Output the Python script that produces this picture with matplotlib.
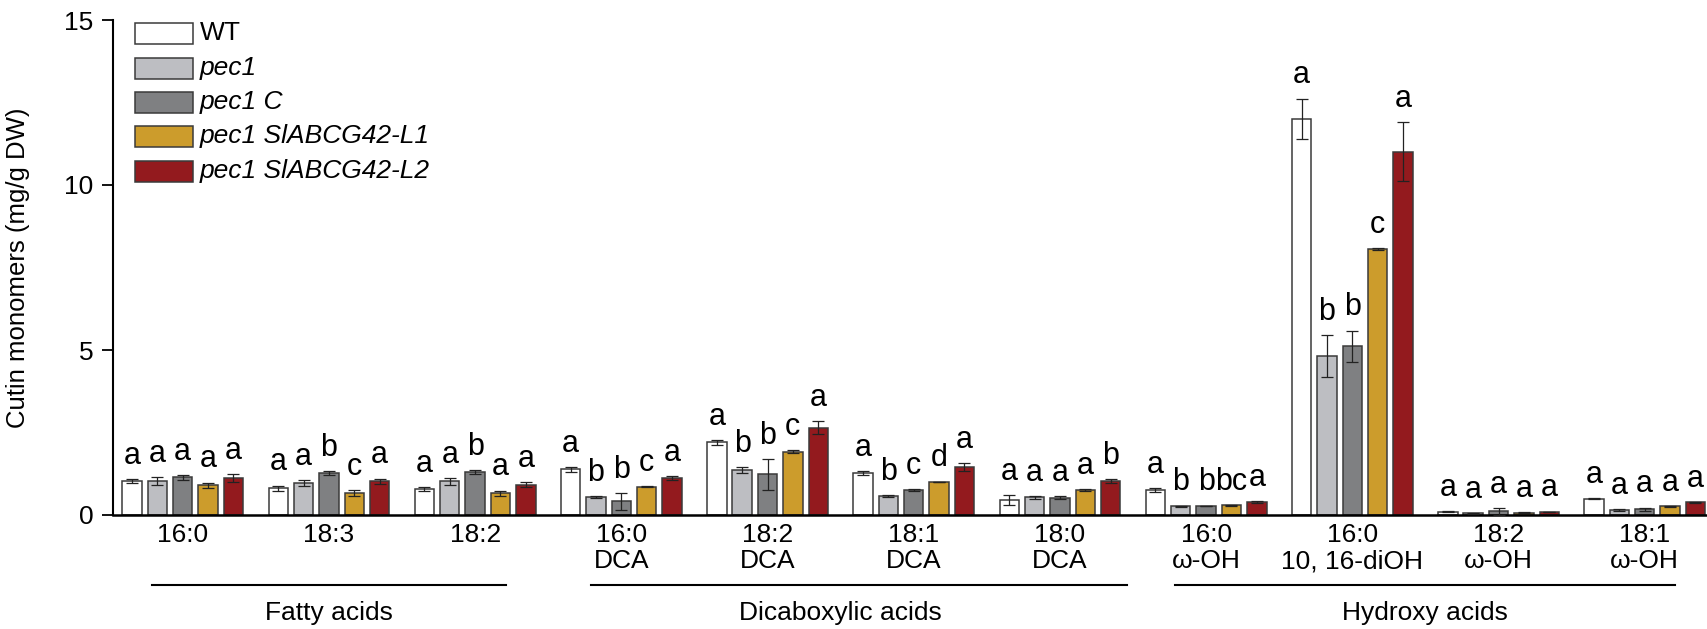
import numpy as np
import matplotlib
matplotlib.use("Agg")
import matplotlib.pyplot as plt
from matplotlib.patches import Rectangle

plt.rcParams["font.family"] = ["Liberation Sans", "DejaVu Sans"]

# categories (x tick labels) and groups
categories = ["16:0", "18:3", "18:2",
              "16:0\nDCA", "18:2\nDCA", "18:1\nDCA", "18:0\nDCA",
              "16:0\nω-OH", "16:0\n10, 16-diOH", "18:2\nω-OH", "18:1\nω-OH"]
groups = ["Fatty acids", "Dicaboxylic acids", "Hydroxy acids"]
group_span = [(0, 2), (3, 6), (7, 10)]
group_ext = [(0.21, 0.21), (0.21, 0.46), (0.21, 0.21)]

genotypes = ["WT", "pec1", "pec1 C", "pec1 SlABCG42-L1", "pec1 SlABCG42-L2"]
colors = ["#FFFFFF", "#BDBEC2", "#7F8082", "#CC9C2C", "#931A1E"]

# means (mg/g DW)
wt = [1.03, 0.81, 0.78, 1.38, 2.20, 1.28, 0.46, 0.76, 12.0, 0.10, 0.50]
pec1 = [1.03, 0.96, 1.02, 0.54, 1.37, 0.57, 0.54, 0.26, 4.82, 0.05, 0.15]
pec1_c = [1.14, 1.26, 1.30, 0.41, 1.23, 0.76, 0.53, 0.27, 5.11, 0.11, 0.17]
l1 = [0.90, 0.66, 0.66, 0.86, 1.92, 1.00, 0.76, 0.29, 8.06, 0.07, 0.26]
l2 = [1.11, 1.02, 0.92, 1.12, 2.65, 1.46, 1.03, 0.39, 11.01, 0.09, 0.38]

# standard errors
wt_err = [0.05, 0.08, 0.06, 0.08, 0.07, 0.06, 0.15, 0.05, 0.62, 0.02, 0.02]
pec1_err = [0.12, 0.09, 0.10, 0.03, 0.09, 0.03, 0.04, 0.02, 0.63, 0.01, 0.02]
pec1_c_err = [0.07, 0.06, 0.05, 0.25, 0.47, 0.02, 0.05, 0.01, 0.48, 0.10, 0.05]
l1_err = [0.08, 0.09, 0.08, 0.01, 0.05, 0.01, 0.02, 0.01, 0.02, 0.01, 0.01]
l2_err = [0.12, 0.08, 0.08, 0.06, 0.20, 0.12, 0.05, 0.02, 0.89, 0.01, 0.02]

# significance letters
wt_let = ["a", "a", "a", "a", "a", "a", "a", "a", "a", "a", "a"]
pec1_let = ["a", "a", "a", "b", "b", "b", "a", "b", "b", "a", "a"]
pec1_c_let = ["a", "b", "b", "b", "b", "c", "a", "b", "b", "a", "a"]
l1_let = ["a", "c", "a", "c", "c", "d", "a", "bc", "c", "a", "a"]
l2_let = ["a", "a", "a", "a", "a", "a", "b", "a", "a", "a", "a"]

means = [wt, pec1, pec1_c, l1, l2]
errs = [wt_err, pec1_err, pec1_c_err, l1_err, l2_err]
letters = [wt_let, pec1_let, pec1_c_let, l1_let, l2_let]

W, H = 1708, 629
fig = plt.figure(figsize=(W / 100, H / 100), dpi=100)
ax = fig.add_axes([113 / W, (H - 515) / H, (W - 113) / W, 495 / H])

x = np.arange(len(categories))
pitch = 0.1734
width = 0.1327
for i in range(5):
    xs = x + (i - 2) * pitch
    ax.bar(xs, means[i], width, color=colors[i], edgecolor="#3a3a3a",
           linewidth=1.1, zorder=2)
    ax.errorbar(xs, means[i], yerr=errs[i], fmt="none", ecolor="#222222",
                elinewidth=0.9, capsize=4, capthick=0.9, zorder=3)
    for xi, m, e, t in zip(xs, means[i], errs[i], letters[i]):
        ax.annotate(t, (xi, m + e), xytext=(0, 11), textcoords="offset points",
                    ha="center", va="baseline", fontsize=22)

ax.set_xlim(-0.477, 10.433)
ax.set_ylim(0, 15)
ax.set_yticks([0, 5, 10, 15])
ax.set_xticks(x)
ax.set_xticklabels(categories, fontsize=19, linespacing=1.1)
ax.tick_params(axis="x", length=0, pad=6)
ax.tick_params(axis="y", labelsize=19, length=8, width=1.3, pad=6)
ax.spines["top"].set_visible(False)
ax.spines["right"].set_visible(False)
ax.spines["left"].set_linewidth(1.5)
ax.spines["bottom"].set_linewidth(1.8)
ax.set_ylabel("Cutin monomers (mg/g DW)", fontsize=18.5)
ax.yaxis.set_label_coords(-0.052, 0.5)

# group brackets
trans = ax.get_xaxis_transform()
for name, (a, b), (ea, eb) in zip(groups, group_span, group_ext):
    ax.plot([a - ea, b + eb], [-0.1414, -0.1414], color="black",
            linewidth=1.5, transform=trans, clip_on=False)
    ax.text((a + b) / 2, -0.198, name, transform=trans, ha="center",
            va="center", fontsize=19)

# legend
rows = [33, 68, 102, 136, 171]
for lab, c, yc in zip(genotypes, colors, rows):
    fig.patches.append(Rectangle((135 / W, 1 - (yc + 10.5) / H), 58 / W, 21 / H,
                                 transform=fig.transFigure, facecolor=c,
                                 edgecolor="#3a3a3a", linewidth=1.1))
    fig.text(200 / W, 1 - yc / H, lab, ha="left", va="center", fontsize=19,
             style="normal" if lab == "WT" else "italic")

fig.savefig("out.png", dpi=100)
